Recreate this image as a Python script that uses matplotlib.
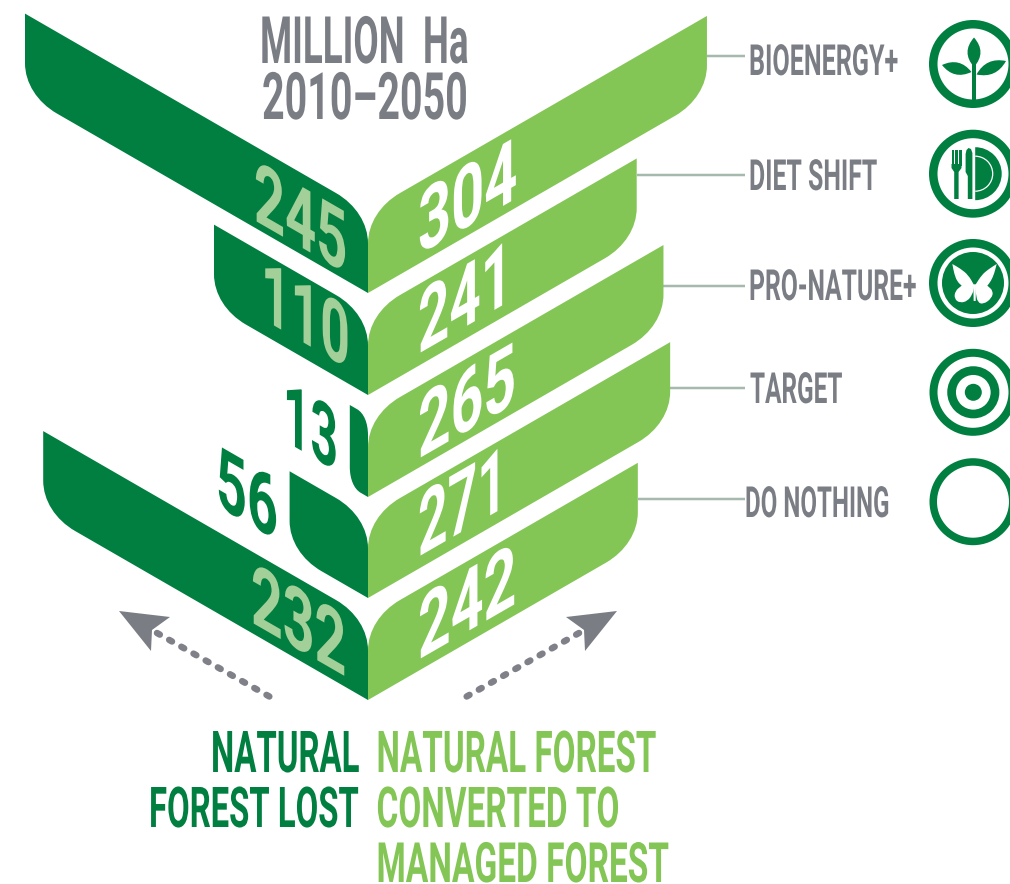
import matplotlib
matplotlib.use("Agg")
import matplotlib.pyplot as plt
from matplotlib.patches import PathPatch, Circle, Wedge, Arc, Polygon, Rectangle
from matplotlib.path import Path
from matplotlib.patheffects import AbstractPathEffect
from matplotlib.transforms import Affine2D

# ---------- data ----------
scenarios = ["BIOENERGY+", "DIET SHIFT", "PRO-NATURE+", "TARGET", "DO NOTHING"]
natural_forest_lost = [245, 110, 13, 56, 232]
converted_to_managed = [304, 241, 265, 271, 242]

# ---------- style / layout ----------
DARK = "#007F40"
LIGHT = "#84C656"
PALE = "#A3CF98"
GREY = "#7B7D85"
LEADER = "#A5B9AF"
W, H = 1010, 884
AX0 = 368
K_LEFT, K_RIGHT = 1.4, 1.115
SLOPE = 0.577
THICK = 81.5
CAP_RATIO = 0.711
apex_y = [293, 395, 497, 598, 700]

fig = plt.figure(figsize=(W / 100, H / 100), dpi=100, facecolor="white")
ax = fig.add_axes([0, 0, 1, 1])
ax.set_xlim(0, W)
ax.set_ylim(H, 0)
ax.axis("off")
PX = 72 / 100


class Condensed(AbstractPathEffect):
    """Draw a text taller than its font size, sheared along its baseline."""
    def __init__(self, sy=1.0, t=0.0):
        super().__init__()
        self.sy, self.t = sy, t

    def draw_path(self, renderer, gc, tpath, affine, rgbFace=None):
        m = Affine2D.from_values(1, self.t, 0, self.sy, 0, 0)
        renderer.draw_path(gc, tpath, m + affine, rgbFace)


def label(x, base, s, color, cap, width, t=0.0, weight="bold"):
    txt = ax.text(x, base, s, color=color, fontsize=20, family="Roboto",
                  weight=weight, ha="left", va="baseline")
    measured = txt.get_window_extent(fig.canvas.get_renderer()).width
    fs = 20 * width / measured
    txt.set_fontsize(fs)
    txt.set_path_effects([Condensed(cap / (CAP_RATIO * fs / PX), t)])
    return txt


def curve(p0, c, p1, f=0.62):
    a = (p0[0] + f * (c[0] - p0[0]), p0[1] + f * (c[1] - p0[1]))
    b = (p1[0] + f * (c[0] - p1[0]), p1[1] + f * (c[1] - p1[1]))
    return [a, b, p1]


def chevron(value, scale, direction, ya, color):
    w = value * scale
    xe = AX0 + direction * w
    rx = min(32, w * 0.6)
    ry = min(32, rx * 1.8)
    c1 = (xe, ya - w * SLOPE)
    c2 = (AX0, ya - THICK)
    outer = (xe, ya - THICK - w * SLOPE)
    verts = [(AX0, ya), (xe - direction * rx, c1[1] + rx * SLOPE)]
    codes = [Path.MOVETO, Path.LINETO]
    verts += curve(verts[-1], c1, (xe, c1[1] - ry))
    codes += [Path.CURVE4] * 3
    verts += [outer, (AX0 + direction * rx, c2[1] - rx * SLOPE)]
    codes += [Path.LINETO, Path.LINETO]
    verts += curve(verts[-1], c2, (AX0, c2[1] + ry))
    codes += [Path.CURVE4] * 3
    verts.append((AX0, ya))
    codes.append(Path.CLOSEPOLY)
    ax.add_patch(PathPatch(Path(verts, codes), fc=color, ec="none", zorder=2))
    return xe, outer[1]


# ---------- chevrons ----------
ends = []
for v, ya in zip(natural_forest_lost, apex_y):
    chevron(v, K_LEFT, -1, ya, DARK)
for v, ya in zip(converted_to_managed, apex_y):
    ends.append(chevron(v, K_RIGHT, 1, ya, LIGHT)[0])

# ---------- value labels ----------
left_pos = [(254, 220, 93), (261, 318, 89), (283, 440, 55), (216, 505, 62), (251, 622, 95)]
left_col = [PALE, PALE, DARK, DARK, PALE]
right_pos = [(418, 255, 99), (418, 354, 94), (418, 459, 98), (418, 557, 89), (418, 660, 98)]
for v, (x, b, wd), c in zip(natural_forest_lost, left_pos, left_col):
    label(x, b, str(v), c, 61, wd, t=-SLOPE)
for v, (x, b, wd) in zip(converted_to_managed, right_pos):
    label(x, b, str(v), "white", 62, wd, t=SLOPE)

# ---------- title ----------
label(260, 63, "MILLION  Ha", GREY, 46.5, 208)
label(262, 119, "2010\u20132050", GREY, 46.5, 205)

# ---------- leaders and scenario labels ----------
leader_y = [56, 175, 286, 388, 499]
label_pos = [(749, 75, 149), (749, 190, 128), (749, 300, 167), (750, 403, 92), (745, 517, 144)]
for name, xe, ly, (x, b, wd) in zip(scenarios, ends, leader_y, label_pos):
    ax.plot([xe, 745], [ly, ly], color=LEADER, lw=2.5 * PX, solid_capstyle="butt", zorder=1)
    label(x, b, name, GREY, 30.5, wd)


# ---------- icons ----------
def ring(cy, r_out=44, width=8.5, cx=973):
    ax.add_patch(Circle((cx, cy), r_out - width / 2, fc="none", ec=DARK, lw=width * PX, zorder=3))


def leaf(p0, p1, bulge):
    mx, my = (p0[0] + p1[0]) / 2, (p0[1] + p1[1]) / 2
    dx, dy = p1[0] - p0[0], p1[1] - p0[1]
    n = (dx * dx + dy * dy) ** 0.5
    nx, ny = -dy / n, dx / n
    c1 = (mx + nx * bulge, my + ny * bulge)
    c2 = (mx - nx * bulge, my - ny * bulge)
    path = Path([p0, c1, p1, c2, p0, p0],
                [Path.MOVETO, Path.CURVE3, Path.CURVE3, Path.CURVE3, Path.CURVE3, Path.CLOSEPOLY])
    ax.add_patch(PathPatch(path, fc=DARK, ec="none", zorder=3))


# plant
ring(64)
ax.add_patch(Rectangle((971.8, 62), 4, 38, fc=DARK, ec="none", zorder=3))
leaf((974, 37.5), (974, 67), 13)
leaf((942, 65), (971.5, 72), 12)
leaf((1006, 61), (976.5, 74.5), 12)

# fork, knife, plate
ring(173.7)
for x in (951.5, 955.2, 958.9):
    ax.add_patch(Rectangle((x, 150), 2.6, 16, fc=DARK, ec="none", zorder=3))
ax.add_patch(Polygon([(951.5, 164), (961.5, 164), (961.5, 168), (958.6, 172), (958.6, 199),
                      (954.2, 199), (954.2, 172), (951.5, 168)], fc=DARK, ec="none", zorder=3))
ax.add_patch(Polygon([(968.5, 148), (971, 149), (972.4, 153), (972.4, 199), (967.8, 199),
                      (967.8, 176), (965.6, 172), (965.6, 154), (966.5, 150)],
                     fc=DARK, ec="none", zorder=3))
ax.add_patch(Wedge((975.2, 173.7), 26.5, -90, 90, fc=DARK, ec="none", zorder=3))
ax.add_patch(Arc((975.2, 173.7), 35, 35, theta1=-90, theta2=90, ec="white", lw=0.9, zorder=4))

# butterfly
ring(283)
ax.add_patch(Circle((973, 283), 31, fc=DARK, ec="none", zorder=3))


def bz(p):
    return 925 + p[0] / 3, 235 + p[1] / 3


def smooth_shape(points):
    """Closed quadratic spline; a repeated point stays a sharp corner."""
    n = len(points)
    mids = [((points[i][0] + points[(i + 1) % n][0]) / 2,
             (points[i][1] + points[(i + 1) % n][1]) / 2) for i in range(n)]
    verts, codes = [mids[-1]], [Path.MOVETO]
    for i in range(n):
        verts += [points[i], mids[i]]
        codes += [Path.CURVE3, Path.CURVE3]
    verts.append(mids[-1])
    codes.append(Path.CLOSEPOLY)
    return Path(verts, codes)


wing_outlines = [
    [(147, 150), (147, 150), (130, 120), (105, 100), (82, 87), (82, 87), (88, 118), (97, 140),
     (110, 152), (110, 152), (90, 168), (88, 192), (105, 204), (128, 198), (142, 178), (147, 160)],
    [(151, 150), (151, 150), (170, 120), (190, 103), (215, 87), (215, 87), (208, 115), (198, 138),
     (187, 152), (187, 152), (205, 168), (200, 190), (175, 208), (158, 202), (153, 178), (151, 160)],
]
for outline in wing_outlines:
    ax.add_patch(PathPatch(smooth_shape([bz(p) for p in outline]), fc="white", ec="none", zorder=4))
ax.add_patch(Polygon([bz(p) for p in [(145, 148), (153, 148), (152, 198), (146, 198)]],
                     fc="white", ec="none", zorder=4))

# target
ring(392.3, 43.5, 8)
ax.add_patch(Circle((973.3, 392.3), 21.7, fc="none", ec=DARK, lw=8.7 * PX, zorder=3))
ax.add_patch(Circle((973.3, 392.3), 8.5, fc=DARK, ec="none", zorder=3))

# do nothing
ring(501.7, 43.5, 7.5)

# ---------- dotted arrows ----------
ARROW = "#7F8088"
for s in (-1, 1):
    mx = lambda dx: AX0 + s * dx
    ax.plot([mx(211), mx(96)], [633, 698], color=ARROW, lw=6.5 * PX,
            linestyle=(0, (0.5, 1.65)), dash_capstyle="round", zorder=2)
    ax.add_patch(Polygon([(mx(249), 611), (mx(198), 617), (mx(216), 630), (mx(217), 651)],
                         fc=GREY, ec="none", zorder=3))

# ---------- legend text ----------
label(211, 772, "NATURAL", DARK, 41, 148)
label(149, 827, "FOREST LOST", DARK, 40, 209)
label(376.5, 772, "NATURAL FOREST", LIGHT, 41, 279)
label(376.5, 827, "CONVERTED TO", LIGHT, 40, 242)
label(376.5, 882, "MANAGED FOREST", LIGHT, 39.5, 292)

fig.savefig("out.png", dpi=100, facecolor="white")
